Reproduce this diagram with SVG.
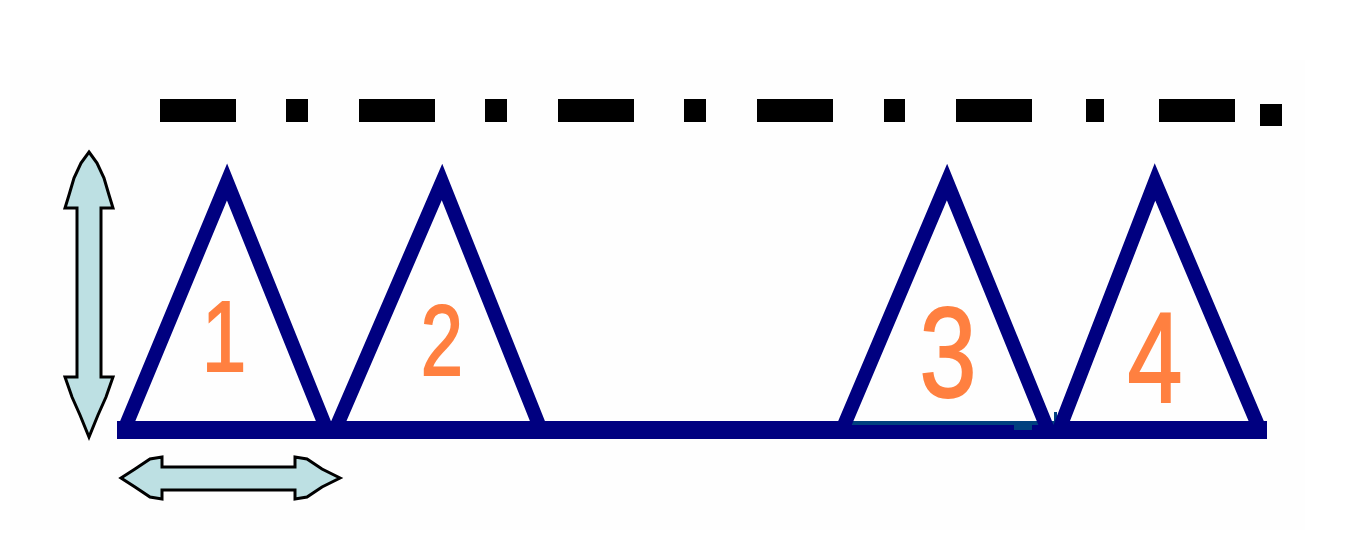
<svg xmlns="http://www.w3.org/2000/svg" width="1352" height="545" viewBox="0 0 1352 545">
  <style>
    .tri { fill: none; stroke: #000080; stroke-width: 14; stroke-linejoin: miter; stroke-miterlimit: 10; }
    .num { font-family: "Liberation Sans", Arial, sans-serif; fill: #ff8040; stroke: #ff8040; stroke-width: 2; text-anchor: middle; }
    .dash { fill: #000000; }
    .arrow { fill: #bde0e3; stroke: #000000; stroke-width: 3; stroke-linejoin: miter; }
  </style>

  <rect x="0" y="0" width="1352" height="545" fill="#ffffff"/>
  <rect x="10" y="60" width="1295" height="470" fill="#fefefe"/>

  <!-- dash-dot line across the top -->
  <g id="dash-dot-line">
    <rect class="dash" x="160" y="99" width="76" height="23"/>
    <rect class="dash" x="286" y="99" width="22" height="23"/>
    <rect class="dash" x="359" y="99" width="76" height="23"/>
    <rect class="dash" x="485" y="99" width="22" height="23"/>
    <rect class="dash" x="558" y="99" width="76" height="23"/>
    <rect class="dash" x="684" y="99" width="22" height="23"/>
    <rect class="dash" x="757" y="99" width="76" height="23"/>
    <rect class="dash" x="884" y="99" width="21" height="23"/>
    <rect class="dash" x="956" y="99" width="76" height="23"/>
    <rect class="dash" x="1086" y="99" width="18" height="23"/>
    <rect class="dash" x="1159" y="99" width="76" height="23"/>
    <rect class="dash" x="1260" y="104" width="22" height="22"/>
  </g>

  <!-- common base line -->
  <g id="base">
    <rect x="117" y="421" width="1150" height="18" fill="#000080"/>
    <path d="M840,421 H1054 V412 H1057 V425 H1032 V430 H1014 V425 H840 Z" fill="#00407f"/>
  </g>

  <g id="triangle-1">
    <polyline class="tri" points="124,430 227,182 327,430"/>
    <text class="num" font-size="100" transform="translate(224,371) scale(0.8,1)">1</text>
  </g>

  <g id="triangle-2">
    <polyline class="tri" points="335,430 442,182 541,430"/>
    <text class="num" font-size="100" transform="translate(442,375) scale(0.76,1)">2</text>
  </g>

  <g id="triangle-3">
    <polyline class="tri" points="842,430 947,182 1048,430"/>
    <text class="num" font-size="128" transform="translate(948,397) scale(0.8,1)">3</text>
  </g>

  <g id="triangle-4">
    <polyline class="tri" points="1059,430 1155,182 1260,430"/>
    <text class="num" font-size="128" transform="translate(1155,402) scale(0.77,1)">4</text>
  </g>

  <!-- dimension arrows -->
  <g id="connectors">
    <path id="height-arrow" class="arrow" d="M89,152 L97,163 L104,178 L109,195 L113,208 L101,208 L101,377 L113,377 L106,397 L98,415 L89,437 L80,415 L72,397 L65,377 L77,377 L77,208 L65,208 L69,195 L74,178 L81,163 Z"/>
    <path id="width-arrow" class="arrow" d="M121,478 L135,469 L150,459 L162,457 L162,467 L295,467 L295,457 L307,459 L322,469 L340,478 L322,487 L307,497 L295,499 L295,490 L162,490 L162,499 L150,497 L135,487 Z"/>
  </g>
</svg>
